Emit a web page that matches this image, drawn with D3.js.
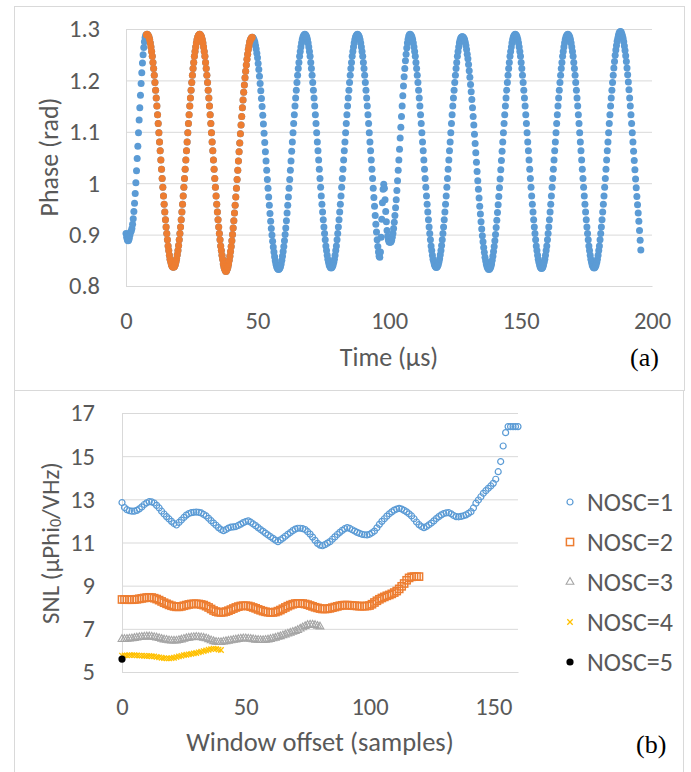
<!DOCTYPE html>
<html>
<head>
<meta charset="utf-8">
<title>Phase and SNL vs window offset</title>
<script src="https://cdn.jsdelivr.net/npm/d3@7"></script>
<style>
  body { margin: 0; background: #fff; }
  svg text { font-family: Carlito, Calibri, Lato, sans-serif; fill: #595959; }
  svg text.panel { font-family: "Liberation Serif", "Times New Roman", serif; fill: #000; }
</style>
</head>
<body>
<div id="chart"></div>
<script>
// ---- panel (a): phase samples, one every 0.25 µs from t = 0
const sampleStep = 0.25;
const phase = [
  0.902,0.895,0.890,0.888,0.889,0.893,0.899,0.905,0.907,0.912,
  0.920,0.931,0.945,0.961,0.980,1.001,1.024,1.048,1.072,1.098,
  1.123,1.147,1.171,1.194,1.215,1.234,1.250,1.264,1.275,1.283,
  1.288,1.289,
  // peak 8
  1.290,1.289,1.287,1.284,1.279,1.273,1.265,1.256,1.247,1.235,
  1.223,1.210,1.196,1.181,1.166,1.150,1.133,1.116,1.098,1.080,
  1.063,1.045,1.027,1.009,0.992,0.975,0.959,0.944,0.929,0.915,
  0.902,0.890,0.878,0.869,0.860,0.852,0.847,0.842,0.839,0.837,
  0.837,0.837,0.839,0.842,0.847,0.853,0.861,0.869,0.879,0.890,
  0.902,0.915,0.929,0.944,0.959,0.975,0.992,1.009,1.027,1.045,
  1.063,1.080,1.098,1.116,1.133,1.150,1.166,1.181,1.196,1.210,
  1.223,1.235,1.247,1.256,1.265,1.273,1.279,1.284,1.287,1.289,
  // peak 28
  1.290,1.289,1.287,1.284,1.279,1.273,1.265,1.256,1.247,1.235,
  1.223,1.210,1.196,1.181,1.166,1.150,1.133,1.116,1.098,1.080,
  1.063,1.045,1.027,1.009,0.992,0.975,0.959,0.944,0.929,0.915,
  0.902,0.890,0.878,0.869,0.860,0.852,0.843,0.837,0.833,0.830,
  0.828,0.830,0.833,0.837,0.843,0.850,0.858,0.867,0.877,0.888,
  0.900,0.913,0.927,0.942,0.957,0.973,0.990,1.007,1.025,1.043,
  1.061,1.078,1.096,1.113,1.130,1.147,1.162,1.177,1.191,1.205,
  1.218,1.230,1.241,1.251,1.260,1.267,1.274,1.278,1.281,1.283,
  // peak 48
  1.284,1.283,1.281,1.278,1.274,1.268,1.261,1.253,1.244,1.233,
  1.221,1.208,1.194,1.180,1.165,1.149,1.132,1.115,1.097,1.079,
  1.061,1.043,1.025,1.007,0.990,0.973,0.957,0.941,0.926,0.912,
  0.899,0.887,0.876,0.866,0.857,0.849,0.843,0.838,0.835,0.833,
  0.832,0.833,0.835,0.838,0.843,0.850,0.858,0.867,0.877,0.888,
  0.900,0.913,0.927,0.942,0.957,0.973,0.990,1.007,1.025,1.043,
  1.062,1.080,1.098,1.116,1.133,1.150,1.166,1.181,1.196,1.210,
  1.223,1.235,1.247,1.256,1.265,1.273,1.279,1.284,1.287,1.289,
  // peak 68
  1.290,1.289,1.287,1.284,1.279,1.273,1.265,1.256,1.247,1.235,
  1.223,1.210,1.196,1.181,1.166,1.150,1.133,1.116,1.098,1.080,
  1.063,1.045,1.027,1.009,0.992,0.975,0.959,0.944,0.929,0.915,
  0.902,0.890,0.878,0.869,0.860,0.852,0.846,0.841,0.838,0.836,
  0.835,0.836,0.838,0.841,0.846,0.852,0.860,0.869,0.878,0.890,
  0.902,0.915,0.929,0.944,0.959,0.975,0.992,1.009,1.027,1.045,
  1.063,1.080,1.098,1.116,1.133,1.150,1.166,1.181,1.196,1.210,
  1.223,1.235,1.247,1.256,1.265,1.273,1.279,1.284,1.287,1.289,
  // peak 88, then the glitch near 96-101
  1.290,1.289,1.287,1.284,1.279,1.273,1.265,1.256,1.247,1.235,
  1.223,1.210,1.196,1.181,1.166,1.150,1.133,1.116,1.098,1.080,
  1.063,1.045,1.027,1.009,
  0.990,0.972,0.955,0.937,0.920,0.905,0.890,0.877,0.866,0.858,
  0.856,0.866,0.895,0.930,0.962,0.988,0.998,0.990,0.968,0.945,
  0.925,0.908,0.897,0.890,0.886,0.885,
  0.885,0.886,0.889,0.895,0.902,0.912,0.924,0.937,0.952,0.968,
  0.986,1.005,1.025,1.045,1.066,1.088,1.109,1.130,1.150,1.170,
  1.189,1.207,1.223,1.238,1.251,1.263,1.273,1.280,1.286,1.289,
  // peak 108
  1.290,1.289,1.287,1.284,1.279,1.273,1.265,1.256,1.247,1.235,
  1.223,1.210,1.196,1.181,1.166,1.150,1.133,1.116,1.098,1.080,
  1.063,1.045,1.027,1.009,0.992,0.975,0.959,0.944,0.929,0.915,
  0.902,0.890,0.878,0.869,0.860,0.852,0.847,0.842,0.839,0.837,
  0.836,0.837,0.839,0.842,0.847,0.853,0.861,0.869,0.879,0.890,
  0.902,0.915,0.929,0.944,0.959,0.975,0.992,1.009,1.027,1.045,
  1.063,1.080,1.098,1.116,1.133,1.150,1.166,1.181,1.196,1.210,
  1.223,1.235,1.247,1.256,1.265,1.273,1.278,1.282,1.284,1.285,
  // peak 128
  1.285,1.284,1.282,1.279,1.274,1.268,1.260,1.251,1.242,1.231,
  1.219,1.206,1.192,1.178,1.163,1.147,1.130,1.113,1.095,1.077,
  1.059,1.041,1.023,1.005,0.988,0.971,0.955,0.940,0.925,0.911,
  0.898,0.886,0.875,0.865,0.856,0.849,0.843,0.838,0.835,0.833,
  0.832,0.833,0.835,0.838,0.843,0.850,0.858,0.867,0.877,0.888,
  0.900,0.914,0.928,0.943,0.958,0.974,0.991,1.008,1.026,1.044,
  1.062,1.080,1.098,1.116,1.133,1.150,1.166,1.181,1.196,1.210,
  1.223,1.235,1.247,1.256,1.265,1.273,1.279,1.284,1.287,1.289,
  // peak 148
  1.290,1.289,1.287,1.284,1.279,1.273,1.265,1.256,1.247,1.235,
  1.223,1.210,1.196,1.181,1.166,1.150,1.133,1.116,1.098,1.080,
  1.063,1.045,1.027,1.009,0.992,0.975,0.959,0.944,0.929,0.915,
  0.902,0.890,0.878,0.869,0.860,0.852,0.846,0.841,0.837,0.835,
  0.834,0.835,0.837,0.841,0.846,0.852,0.860,0.869,0.878,0.890,
  0.902,0.915,0.929,0.944,0.959,0.975,0.992,1.009,1.027,1.045,
  1.063,1.080,1.098,1.116,1.133,1.150,1.166,1.181,1.196,1.210,
  1.223,1.235,1.247,1.256,1.265,1.273,1.279,1.284,1.287,1.289,
  // peak 168
  1.290,1.289,1.287,1.284,1.279,1.273,1.265,1.256,1.247,1.235,
  1.223,1.210,1.196,1.181,1.166,1.150,1.133,1.116,1.098,1.080,
  1.063,1.045,1.027,1.009,0.992,0.975,0.959,0.944,0.929,0.915,
  0.902,0.890,0.878,0.869,0.860,0.852,0.846,0.841,0.838,0.836,
  0.835,0.836,0.838,0.841,0.846,0.852,0.860,0.869,0.878,0.890,
  0.902,0.915,0.929,0.944,0.959,0.975,0.992,1.009,1.027,1.045,
  1.063,1.080,1.098,1.116,1.133,1.150,1.166,1.181,1.196,1.210,
  1.224,1.237,1.249,1.259,1.268,1.276,1.282,1.288,1.292,1.294,
  // peak 188 to the end
  1.295,1.294,1.291,1.287,1.282,1.275,1.267,1.258,1.248,1.237,
  1.224,1.211,1.197,1.182,1.166,1.150,1.133,1.116,1.098,1.080,
  1.062,1.044,1.026,1.008,0.991,0.974,0.958,0.942,0.926,0.908,
  0.889,0.870
];
const windowNosc2 = [7.75, 48];   // µs, the highlighted two-oscillation window
const timeTicks = [0, 50, 100, 150, 200];
const phaseTicks = [0.8, 0.9, 1, 1.1, 1.2, 1.3];

// ---- panel (b): SNL per window offset (samples 0, 1, 2, ...)
const nosc1 = [
  12.85,12.62,12.52,12.47,12.45,12.45,12.49,12.56,12.65,12.76,
  12.84,12.89,12.88,12.83,12.72,12.60,12.45,12.32,12.20,12.09,
  11.98,11.88,11.81,11.93,12.04,12.16,12.27,12.34,12.38,12.40,
  12.41,12.40,12.37,12.30,12.23,12.12,12.01,11.90,11.80,11.69,
  11.60,11.55,11.60,11.67,11.71,11.72,11.74,11.79,11.85,11.92,
  11.97,12.00,11.94,11.86,11.78,11.69,11.60,11.52,11.43,11.35,
  11.27,11.19,11.11,11.04,11.12,11.20,11.29,11.38,11.46,11.55,
  11.62,11.66,11.66,11.64,11.60,11.50,11.39,11.25,11.10,10.96,
  10.88,10.85,10.90,10.97,11.04,11.15,11.26,11.37,11.47,11.56,
  11.64,11.69,11.65,11.59,11.53,11.47,11.42,11.38,11.36,11.35,
  11.38,11.45,11.53,11.68,11.84,11.98,12.10,12.22,12.33,12.42,
  12.50,12.55,12.58,12.55,12.49,12.42,12.33,12.23,12.10,11.95,
  11.83,11.74,11.69,11.74,11.82,11.90,12.00,12.11,12.20,12.28,
  12.34,12.37,12.38,12.33,12.25,12.20,12.19,12.21,12.24,12.28,
  12.35,12.43,12.60,12.82,12.97,13.12,13.28,13.40,13.51,13.62,
  13.74,13.93,14.28,14.75,15.47,16.09,16.37,16.37,16.37,16.37,
  16.37
];
const nosc2 = [
  8.36,8.36,8.35,8.35,8.35,8.36,8.37,8.39,8.41,8.43,
  8.45,8.46,8.45,8.42,8.38,8.33,8.27,8.21,8.16,8.11,
  8.07,8.04,8.02,8.02,8.04,8.07,8.10,8.13,8.15,8.16,
  8.16,8.15,8.13,8.10,8.05,7.99,7.92,7.85,7.80,7.77,
  7.76,7.77,7.80,7.84,7.89,7.94,7.99,8.03,8.06,8.07,
  8.07,8.06,8.03,7.99,7.95,7.90,7.86,7.82,7.79,7.77,
  7.76,7.76,7.78,7.82,7.87,7.93,7.99,8.05,8.10,8.14,
  8.17,8.18,8.18,8.17,8.15,8.12,8.08,8.04,8.00,7.97,
  7.94,7.92,7.92,7.93,7.95,7.98,8.01,8.04,8.07,8.09,
  8.10,8.10,8.09,8.08,8.07,8.06,8.05,8.05,8.05,8.06,
  8.08,8.14,8.22,8.30,8.37,8.43,8.48,8.53,8.57,8.62,
  8.68,8.75,8.85,8.97,9.10,9.25,9.36,9.41,9.42,9.42,
  9.42
];
const nosc3 = [
  6.52,6.52,6.53,6.54,6.55,6.57,6.59,6.61,6.62,6.63,
  6.64,6.64,6.63,6.61,6.59,6.56,6.53,6.50,6.48,6.46,
  6.45,6.45,6.45,6.47,6.50,6.53,6.56,6.58,6.60,6.61,
  6.62,6.61,6.60,6.58,6.55,6.51,6.46,6.42,6.39,6.38,
  6.38,6.40,6.42,6.44,6.46,6.48,6.50,6.52,6.54,6.55,
  6.55,6.54,6.53,6.51,6.49,6.48,6.47,6.47,6.48,6.50,
  6.52,6.55,6.58,6.62,6.65,6.69,6.73,6.77,6.81,6.85,
  6.89,6.94,7.00,7.06,7.12,7.17,7.19,7.19,7.17,7.13,
  7.10
];
const nosc4 = [
  5.76,5.77,5.77,5.78,5.78,5.78,5.77,5.76,5.76,5.75,
  5.74,5.74,5.73,5.72,5.70,5.68,5.66,5.64,5.63,5.63,
  5.64,5.66,5.69,5.72,5.75,5.78,5.80,5.82,5.84,5.86,
  5.88,5.91,5.94,5.97,6.00,6.03,6.06,6.08,6.07,6.04,
  6.02
];
const nosc5 = [5.60];
const seriesNames = ["NOSC=1", "NOSC=2", "NOSC=3", "NOSC=4", "NOSC=5"];
const offsetTicks = [0, 50, 100, 150];
const snlTicks = [5, 7, 9, 11, 13, 15, 17];

const blue = "#5b9bd5", orange = "#ed7d31", grey = "#a5a5a5", gold = "#ffc000";
const gridColor = "#d9d9d9";

const svg = d3.select("#chart").append("svg")
    .attr("width", 691)
    .attr("height", 772);

svg.append("rect").attr("width", 691).attr("height", 772).attr("fill", "#fff");

// outer frames of the two panels
svg.append("rect").attr("x", 14.5).attr("y", 6.5).attr("width", 670).attr("height", 384)
    .attr("fill", "none").attr("stroke", gridColor);
svg.append("rect").attr("x", 14.5).attr("y", 390.5).attr("width", 669).attr("height", 400)
    .attr("fill", "none").attr("stroke", gridColor);

function styleAxis(g) {
  g.selectAll(".domain").attr("stroke", gridColor);
  g.selectAll(".tick line").attr("stroke", gridColor);
  g.selectAll(".tick text").style("font-size", "24.5px");
}

// ================= panel (a)
const xT = d3.scaleLinear().domain([0, 200]).range([126, 652]);
const yP = d3.scaleLinear().domain([0.8, 1.3]).range([286, 29]);

svg.append("g")
    .attr("transform", "translate(126,0)")
    .call(d3.axisLeft(yP).tickValues(phaseTicks).tickSize(-526).tickSizeOuter(0).tickPadding(26)
      .tickFormat(d => d === 1 ? "1" : d.toFixed(1)))
    .call(styleAxis);

svg.append("g")
    .attr("transform", "translate(0,286)")
    .call(d3.axisBottom(xT).tickValues(timeTicks).tickSize(0).tickSizeOuter(0).tickPadding(26))
    .call(styleAxis);

const phasePoints = phase.map((v, i) => ({t: i * sampleStep, v: v}));
const windowPoints = phasePoints.filter(d => d.t >= windowNosc2[0] && d.t <= windowNosc2[1]);

svg.append("g").selectAll("circle")
    .data(phasePoints)
    .join("circle")
    .attr("cx", d => xT(d.t))
    .attr("cy", d => yP(d.v))
    .attr("r", 3.5)
    .attr("fill", blue);

svg.append("g").selectAll("circle")
    .data(windowPoints)
    .join("circle")
    .attr("cx", d => xT(d.t))
    .attr("cy", d => yP(d.v))
    .attr("r", 3.5)
    .attr("fill", orange);

svg.append("text")
    .attr("transform", "translate(49,157) rotate(-90)")
    .attr("text-anchor", "middle")
    .attr("dominant-baseline", "central")
    .style("font-size", "26px")
    .text("Phase (rad)");

svg.append("text")
    .attr("x", 389).attr("y", 366)
    .attr("text-anchor", "middle")
    .style("font-size", "26px")
    .text("Time (\u03bcs)");

svg.append("text").attr("class", "panel")
    .attr("x", 630).attr("y", 366)
    .style("font-size", "26px")
    .text("(a)");

// ================= panel (b)
const xO = d3.scaleLinear().domain([0, 160]).range([122, 518]);
const yS = d3.scaleLinear().domain([5, 17]).range([672, 413]);

svg.append("g")
    .attr("transform", "translate(122,0)")
    .call(d3.axisLeft(yS).tickValues(snlTicks).tickSize(-396).tickSizeOuter(0).tickPadding(27))
    .call(styleAxis);

svg.append("g")
    .attr("transform", "translate(0,672)")
    .call(d3.axisBottom(xO).tickValues(offsetTicks).tickSize(0).tickSizeOuter(0).tickPadding(26))
    .call(styleAxis);

const triangle = d3.symbol().type(d3.symbolTriangle).size(26)();
const cross = "M-2.7,-2.7L2.7,2.7M-2.7,2.7L2.7,-2.7";

// one drawing function per marker type
const markers = [
  (g) => g.append("circle").attr("r", 3).attr("fill", "none").attr("stroke", blue).attr("stroke-width", 1.2),
  (g) => g.append("rect").attr("x", -3.6).attr("y", -3.6).attr("width", 7.2).attr("height", 7.2)
          .attr("fill", "none").attr("stroke", orange).attr("stroke-width", 1.5),
  (g) => g.append("path").attr("d", triangle).attr("fill", "none").attr("stroke", grey).attr("stroke-width", 1.1),
  (g) => g.append("path").attr("d", cross).attr("fill", "none").attr("stroke", gold).attr("stroke-width", 1.3),
  (g) => g.append("circle").attr("r", 3.6).attr("fill", "#000")
];

const snlSeries = [nosc1, nosc2, nosc3, nosc4, nosc5];

snlSeries.forEach((values, s) => {
  svg.append("g").selectAll("g")
      .data(values)
      .join("g")
      .attr("transform", (d, i) => `translate(${xO(i)},${yS(d)})`)
      .each(function () { markers[s](d3.select(this)); });
});

svg.append("text")
    .attr("transform", "translate(50,543) rotate(-90)")
    .attr("text-anchor", "middle")
    .attr("dominant-baseline", "central")
    .style("font-size", "25px")
    .call(t => {
      t.append("tspan").text("SNL (\u03bcPhi");
      t.append("tspan").attr("dy", 5).style("font-size", "16px").text("0");
      t.append("tspan").attr("dy", -5).text("/VHz)");
    });

svg.append("text")
    .attr("x", 320).attr("y", 751)
    .attr("text-anchor", "middle")
    .style("font-size", "26.5px")
    .text("Window offset (samples)");

svg.append("text").attr("class", "panel")
    .attr("x", 636).attr("y", 753)
    .style("font-size", "26px")
    .text("(b)");

// legend
const legend = svg.append("g");
seriesNames.forEach((name, s) => {
  const row = legend.append("g").attr("transform", `translate(570,${502 + s * 40})`);
  markers[s](row);
  row.append("text")
      .attr("x", 17)
      .attr("dominant-baseline", "central")
      .style("font-size", "26px")
      .text(name);
});
</script>
</body>
</html>
